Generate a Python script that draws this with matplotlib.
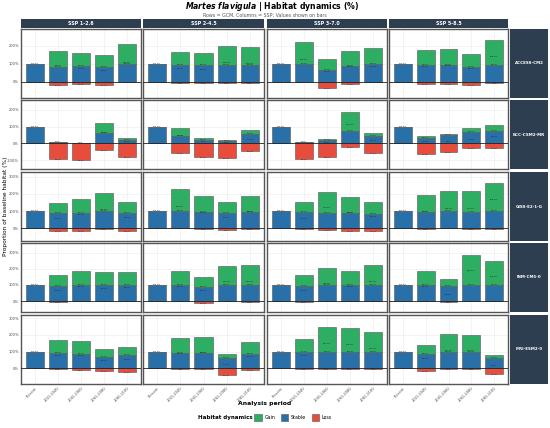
import numpy as np
import matplotlib
matplotlib.use("Agg")
import matplotlib.pyplot as plt
from matplotlib.patches import Patch

# facets and categories
gcms = ["ACCESS-CM2", "BCC-CSM2-MR", "GISS-E2-1-G", "INM-CM5-0", "MRI-ESM2-0"]
ssps = ["SSP 1-2.6", "SSP 2-4.5", "SSP 3-7.0", "SSP 5-8.5"]
periods = ["Present", "2021-2040", "2041-2060", "2061-2080", "2081-2100"]

# values (% of baseline habitat), [gcm][ssp][period]
stable = np.array([
    [[100, 81, 86, 84, 98], [100, 92, 92, 92, 92], [100, 96, 67, 87, 98], [100, 91, 91, 81, 93]],
    [[100, 6, 3, 59, 20], [100, 42, 22, 16, 53], [100, 6, 18, 75, 44], [100, 30, 50, 69, 71]],
    [[100, 89, 89, 99, 89], [100, 98, 97, 91, 95], [100, 95, 89, 89, 83], [100, 97, 99, 97, 99]],
    [[100, 92, 98, 98, 98], [100, 98, 86, 99, 98], [100, 94, 98, 98, 98], [100, 98, 92, 98, 98]],
    [[100, 92, 86, 70, 78], [100, 94, 94, 60, 84], [100, 97, 99, 99, 99], [100, 84, 99, 96, 62]],
])
gain = np.array([
    [[0, 89, 72, 62, 109], [0, 71, 65, 108, 102], [0, 126, 59, 83, 87], [0, 83, 89, 75, 138]],
    [[0, 0, 0, 62, 10], [0, 47, 8, 2, 24], [0, 0, 6, 113, 15], [0, 12, 8, 24, 38]],
    [[0, 55, 82, 107, 61], [0, 129, 93, 60, 95], [0, 56, 119, 92, 70], [0, 99, 115, 117, 165]],
    [[0, 68, 88, 80, 84], [0, 88, 64, 119, 124], [0, 68, 109, 88, 124], [0, 88, 43, 188, 153]],
    [[0, 78, 76, 48, 50], [0, 86, 94, 24, 72], [0, 79, 151, 143, 119], [0, 58, 107, 104, 18]],
])
loss = np.array([
    [[0, 18, 15, 16, 3], [0, 9, 5, 6, 9], [0, 4, 35, 15, 3], [0, 13, 11, 19, 7]],
    [[0, 93, 99, 42, 81], [0, 57, 79, 85, 46], [0, 93, 83, 22, 55], [0, 65, 51, 30, 26]],
    [[0, 13, 15, 2, 13], [0, 1, 3, 8, 5], [0, 2, 10, 14, 17], [0, 3, 1, 6, 2]],
    [[0, 5, 2, 2, 2], [0, 1, 12, 1, 3], [0, 5, 2, 2, 2], [0, 2, 8, 1, 2]],
    [[0, 4, 8, 16, 20], [0, 3, 4, 38, 10], [0, 2, 2, 2, 2], [0, 14, 2, 6, 34]],
])

# per-row y range (free y scales)
row_ylim = [(-91, 293), (-153, 258), (-74, 327), (-68, 360), (-94, 319)]
row_ticks = [[0, 100, 200], [-100, 0, 100, 200], [0, 100, 200, 300],
             [0, 100, 200, 300], [0, 100, 200, 300]]

c_gain = "#2EAE62"
c_stable = "#2A70A8"
c_loss = "#E74C3C"
c_strip = "#2C3E50"

W, H = 550, 428
fig = plt.figure(figsize=(W / 100, H / 100), dpi=100)

def px(x0, y0, x1, y1):
    return [x0 / W, 1 - y1 / H, (x1 - x0) / W, (y1 - y0) / H]

col_x = [(21, 141), (143, 264), (267, 387), (389, 508)]
row_y = [(29, 98), (100, 169), (172, 241), (243, 312), (315, 384)]
x = np.arange(len(periods))

for i, g in enumerate(gcms):
    for j, s in enumerate(ssps):
        ax = fig.add_axes(px(col_x[j][0], row_y[i][0], col_x[j][1], row_y[i][1]))
        st, ga, lo = stable[i][j], gain[i][j], loss[i][j]
        ax.bar(x, st, width=0.78, color=c_stable, edgecolor="#555555", linewidth=0.4, zorder=2)
        ax.bar(x, ga, width=0.78, bottom=st, color=c_gain, edgecolor="#555555", linewidth=0.4, zorder=2)
        ax.bar(x, -lo, width=0.78, color=c_loss, edgecolor="#555555", linewidth=0.4, zorder=2)
        ax.axhline(0, color="#222222", linewidth=0.6, zorder=3)
        for k in range(len(periods)):
            ax.text(x[k], st[k], f"{st[k]:.1f}%", ha="center", va="bottom",
                    fontsize=1.6, color="#222222", zorder=4)
            if ga[k] > 0:
                ax.text(x[k], ga[k], f"{ga[k]:.1f}%", ha="center", va="center",
                        fontsize=1.6, color="#222222", zorder=4)
            if lo[k] > 0:
                ax.text(x[k], -lo[k], f"{lo[k]:.1f}%", ha="center", va="top",
                        fontsize=1.6, color="#222222", zorder=4)
        ax.set_xlim(-0.6, 4.6)
        ax.set_ylim(*row_ylim[i])
        ax.set_yticks(row_ticks[i])
        ax.grid(True, color="#EBEBEB", linewidth=0.4, zorder=0)
        ax.set_axisbelow(True)
        ax.tick_params(length=0, labelsize=2.6, pad=1.5, colors="#4D4D4D")
        ax.set_xticks(x)
        if i == len(gcms) - 1:
            ax.set_xticklabels(periods, rotation=45, ha="right", rotation_mode="anchor")
        else:
            ax.set_xticklabels([])
        if j == 0:
            ax.set_yticklabels([f"{t}%" for t in row_ticks[i]])
        else:
            ax.set_yticklabels([])
        for sp in ax.spines.values():
            sp.set_color("#555555")
            sp.set_linewidth(1.0)

# column strips
for j, s in enumerate(ssps):
    sax = fig.add_axes(px(col_x[j][0], 19, col_x[j][1], 28))
    sax.set_facecolor(c_strip)
    sax.set_xticks([]); sax.set_yticks([])
    for sp in sax.spines.values():
        sp.set_visible(False)
    sax.text(0.5, 0.5, s, ha="center", va="center", color="white",
             fontsize=3.4, fontweight="bold", transform=sax.transAxes)

# row strips
for i, g in enumerate(gcms):
    sax = fig.add_axes(px(510, row_y[i][0], 548, row_y[i][1]))
    sax.set_facecolor(c_strip)
    sax.set_xticks([]); sax.set_yticks([])
    for sp in sax.spines.values():
        sp.set_visible(False)
    sax.text(0.5, 0.5, g, ha="center", va="center", color="white",
             fontsize=2.9, fontweight="bold", transform=sax.transAxes)

fig.text(272 / W, 1 - 6.5 / H, r"$\mathbfit{Martes\ flavigula}$" + " | Habitat dynamics (%)",
         ha="center", va="center", fontsize=5.6, fontweight="bold")
fig.text(265 / W, 1 - 15 / H, "Rows = GCM, Columns = SSP; Values shown on bars",
         ha="center", va="center", fontsize=3.4, color="#555555")
fig.text(6 / W, 1 - 206 / H, "Proportion of baseline habitat (%)", rotation=90,
         ha="center", va="center", fontsize=4.2)
fig.text(265 / W, 1 - 404 / H, "Analysis period", ha="center", va="center",
         fontsize=4.4, fontweight="bold")

# legend: title on the left, entries in one row
fig.text(253 / W, 1 - 417.5 / H, "Habitat dynamics", ha="right", va="center",
         fontsize=4.0, fontweight="bold")
handles = [Patch(facecolor=c_gain, edgecolor="#555555", linewidth=0.4, label="Gain"),
           Patch(facecolor=c_stable, edgecolor="#555555", linewidth=0.4, label="Stable"),
           Patch(facecolor=c_loss, edgecolor="#555555", linewidth=0.4, label="Loss")]
fig.legend(handles=handles, loc="center left", bbox_to_anchor=(252 / W, 1 - 417.5 / H),
           ncol=3, frameon=False, fontsize=3.4, borderpad=0,
           handlelength=1.6, handleheight=1.6, handletextpad=0.5, columnspacing=1.2)

fig.savefig("out.png", dpi=100)
